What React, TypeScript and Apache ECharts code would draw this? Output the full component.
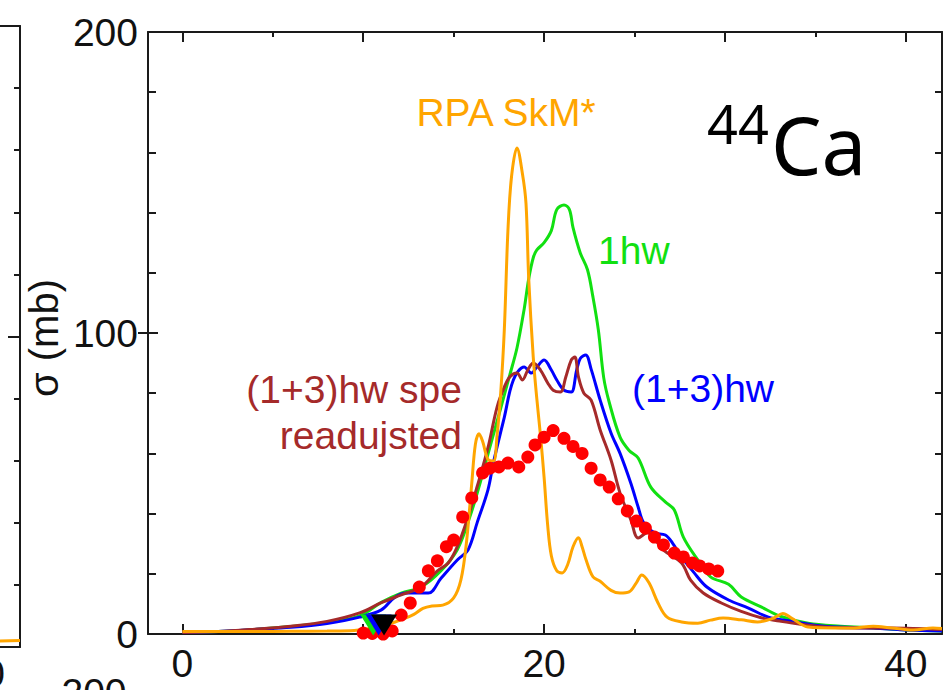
import React, { useEffect, useRef } from "react";
import * as echarts from "echarts";

// ---------- data (MeV, mb) ----------
const rpaSkm: [number, number][] = [
  [0, 0.8], [2, 0.8], [4, 0.8], [6, 0.9], [8, 1.0], [9.5, 1.2], [10.5, 2], [11.5, 3.5], [12.2, 5],
  [12.8, 6.5], [13.3, 8.5], [13.8, 9.3], [14.4, 9.6], [15, 12], [15.4, 18], [15.7, 30], [16.0, 50],
  [16.2, 63], [16.4, 66.5], [16.6, 64], [16.9, 58], [17.2, 57.5], [17.4, 66], [17.6, 80], [17.8, 101],
  [18.0, 134], [18.2, 152], [18.5, 161.5], [18.8, 153], [19.0, 143], [19.15, 118], [19.4, 92],
  [19.6, 78], [19.8, 66], [20.0, 52], [20.2, 36], [20.4, 26], [20.7, 21], [21.0, 20.3], [21.3, 23],
  [21.6, 29], [21.9, 32], [22.1, 29], [22.3, 25], [22.7, 19], [23.1, 17.5], [23.7, 14.5], [24.2, 13.6],
  [24.7, 14], [25.1, 17], [25.4, 19.6], [25.8, 17], [26.3, 10.3], [26.8, 5.6], [27.6, 4], [28.5, 3.6],
  [29.2, 4.6], [29.9, 5.3], [30.9, 4.7], [31.8, 4], [32.7, 5.3], [33.2, 6.8], [33.7, 5.2], [34.6, 2.3],
  [36, 2], [37.1, 2], [38.2, 2.6], [39.2, 2], [40.4, 1.3], [41.5, 2], [42, 1.8],
];

const oneHw: [number, number][] = [
  [0, 0.5], [2, 0.8], [4, 1.5], [6, 2.5], [8, 3.8], [9.8, 6], [11, 10.5], [12.1, 13.6], [13.2, 15.6],
  [14.3, 21], [15.2, 28], [15.9, 39], [16.5, 51], [17, 62], [17.6, 75], [18.1, 86], [18.5, 95],
  [18.9, 108], [19.15, 118], [19.4, 125], [19.6, 127.6], [20.0, 130], [20.4, 134], [20.7, 141],
  [21.1, 142.5], [21.4, 141], [21.6, 135], [22, 126.6], [22.4, 121], [22.7, 112], [23, 101], [23.3, 85],
  [23.6, 77], [24.2, 65.4], [24.7, 61], [25.2, 58.5], [25.9, 48.8], [26.7, 43.9], [27.2, 41.2],
  [27.7, 32.2], [28.5, 24.6], [29.2, 19], [30.2, 16.5], [30.9, 12.3], [32, 9], [33.1, 5.8], [34.6, 3.6],
  [36.4, 2.6], [38.2, 2], [40.1, 1.3], [42, 1],
];

const onePlusThreeHw: [number, number][] = [
  [0, 0.5], [2, 0.8], [4, 1.5], [6, 2.2], [8, 3.5], [9.8, 5.6], [11, 8], [11.7, 12], [12.4, 13.6],
  [13.6, 13.6], [14.3, 18.5], [15.2, 24.6], [15.8, 28], [16.3, 37], [16.9, 48], [17.2, 57], [17.8, 72],
  [18.3, 84.4], [18.9, 88.7], [19.3, 86.7], [19.6, 88.7], [20, 91], [20.4, 87.7], [20.7, 84.4],
  [21.1, 81], [21.5, 80.4], [21.8, 87.7], [22.0, 91.5], [22.3, 92.7], [22.6, 88], [23.1, 77.7],
  [23.7, 66.8], [24.2, 60], [24.8, 50], [25.2, 42.2], [25.5, 37], [26.1, 33.6], [26.7, 32.9],
  [27.1, 30.2], [27.6, 25.6], [28.3, 20.3], [29, 15.6], [30.2, 11.3], [31.3, 8.6], [32.4, 5.6],
  [33.5, 4.4], [35.5, 2.6], [38.2, 2], [40.1, 1.3], [42, 1],
];

const speReadjusted: [number, number][] = [
  [0, 0.5], [2, 0.8], [4, 1.6], [6, 2.6], [8, 4.2], [9.8, 7], [11, 10.4], [12.1, 13], [13.2, 15.6],
  [14.1, 21], [14.7, 23.6], [15.2, 29], [15.8, 39], [16.3, 49], [16.9, 62], [17.4, 75.4], [17.8, 82],
  [18.1, 85.4], [18.5, 86.7], [18.8, 84.4], [19.1, 87.7], [19.4, 90], [19.8, 87.7], [20.2, 83.4],
  [20.5, 81], [20.9, 80.4], [21.2, 85.4], [21.5, 91], [21.7, 92], [21.9, 85.4], [22.2, 80], [22.6, 77.7],
  [23.1, 67.8], [23.7, 57.8], [24.2, 46.8], [24.8, 37.9], [25.2, 31.9], [25.7, 33.6], [26.6, 27.9],
  [27.6, 23.6], [28.1, 17.9], [28.8, 13.6], [29.8, 10.3], [30.9, 7.5], [32, 5.4], [33.1, 4.2],
  [34.5, 3], [35.5, 2.3], [37.3, 2], [39.2, 2], [42, 1.5],
];

const experiment: [number, number][] = [
  [10.0, 0.3], [10.5, 0.2], [11.1, 0], [11.6, 1], [12.1, 6.3], [12.6, 10.3], [13.1, 15.6], [13.6, 21],
  [14.1, 24.3], [14.6, 29], [15.0, 31.2], [15.5, 38.9], [16.0, 45.2], [16.6, 53.5], [17.0, 55.1],
  [17.5, 55.5], [18.0, 56.8], [18.6, 55.5], [19.1, 58.8], [19.5, 62.8], [20.0, 65.4], [20.5, 67.6],
  [21.1, 65], [21.6, 62.3], [22.1, 60], [22.6, 55.1], [23.1, 51.2], [23.6, 48.8], [24.1, 44.9],
  [24.6, 40.9], [25.1, 37.5], [25.6, 35.2], [26.1, 32.2], [26.6, 29.6], [27.2, 26.9], [27.7, 25.6],
  [28.2, 23.6], [28.6, 22.6], [29.1, 21.6], [29.6, 20.9],
];

// threshold markers (green, blue, black)
const thresholdGreen: [number, number][] = [[10.55, 3.0]];
const thresholdBlue: [number, number][] = [[10.85, 3.0]];
const thresholdBlack: [number, number][] = [[11.15, 3.0]];

// neighbouring (cropped) panel on the left
const leftPanelRpa: [number, number][] = [[40, 1.9], [42, 2.1]];

// ticks & labels
const xLabelValues = [0, 20, 40];
const xMajorTicks = [0, 10, 20, 30, 40];
const xMinorTicks = [5, 15, 25, 35];
const yLabelValues = [0, 100, 200];
const yMinorTicks = [20, 40, 60, 80, 120, 140, 160, 180];
const yMajorTicks = [100];

const COLORS = {
  rpa: "#ffa500",
  oneHw: "#11e011",
  onePlusThree: "#0000ff",
  spe: "#a52a2a",
  exp: "#ff0000",
  axis: "#1a1a1a",
};

const FONT = "'Liberation Sans', Arial, sans-serif";

export default function App() {
  const ref = useRef<HTMLDivElement>(null);

  useEffect(() => {
    document.body.style.margin = "0";
    if (!ref.current) return;
    const chart = echarts.init(ref.current, undefined, { renderer: "svg" });

    const line = { show: true, onZero: false, lineStyle: { color: COLORS.axis, width: 2 } };
    const noLine = { show: false, onZero: false };
    const hidden = { show: false };
    const X0 = { min: -1.9, max: 42 };
    const tickStyle = { color: COLORS.axis, width: 2 };

    const lineSeries = (name: string, data: [number, number][], color: string, z: number) => ({
      type: "line",
      name,
      data,
      xAxisIndex: 0,
      yAxisIndex: 0,
      smooth: 0.35,
      showSymbol: false,
      symbol: "none",
      lineStyle: { color, width: 3 },
      z,
    });

    const tri = (data: [number, number][], color: string, z: number) => ({
      type: "scatter",
      data,
      xAxisIndex: 0,
      yAxisIndex: 0,
      symbol: "triangle",
      symbolRotate: 180,
      symbolSize: [26, 21],
      itemStyle: { color, opacity: 1 },
      clip: false,
      z,
    });

    const option: any = {
      animation: false,
      backgroundColor: "#ffffff",
      grid: [
        { left: 148, right: 5, top: 32, bottom: 56 },
        { left: 0, right: 927, top: 26, bottom: 43 },
      ],
      xAxis: [
        {
          type: "value", gridIndex: 0, position: "bottom", ...X0,
          axisLine: line, splitLine: hidden,
          axisTick: { show: true, inside: true, length: 10, customValues: xMajorTicks, lineStyle: tickStyle },
          axisLabel: { customValues: xLabelValues, fontSize: 39, fontFamily: FONT, color: "#111", margin: 10 },
        },
        {
          type: "value", gridIndex: 0, position: "bottom", ...X0,
          axisLine: noLine, splitLine: hidden, axisLabel: hidden,
          axisTick: { show: true, inside: true, length: 5, customValues: xMinorTicks, lineStyle: tickStyle },
        },
        {
          type: "value", gridIndex: 0, position: "top", ...X0,
          axisLine: line, splitLine: hidden, axisLabel: hidden,
          axisTick: { show: true, inside: true, length: 10, customValues: xMajorTicks, lineStyle: tickStyle },
        },
        {
          type: "value", gridIndex: 0, position: "top", ...X0,
          axisLine: noLine, splitLine: hidden, axisLabel: hidden,
          axisTick: { show: true, inside: true, length: 5, customValues: xMinorTicks, lineStyle: tickStyle },
        },
        {
          type: "value", gridIndex: 1, position: "bottom", min: 40, max: 42,
          axisLine: line, splitLine: hidden, axisLabel: hidden, axisTick: hidden,
        },
        {
          type: "value", gridIndex: 1, position: "top", min: 40, max: 42,
          axisLine: line, splitLine: hidden, axisLabel: hidden, axisTick: hidden,
        },
      ],
      yAxis: [
        {
          type: "value", gridIndex: 0, position: "left", min: 0, max: 200,
          axisLine: line, splitLine: hidden,
          axisTick: { show: true, inside: true, length: 8, customValues: yMinorTicks, lineStyle: tickStyle },
          axisLabel: { customValues: yLabelValues, fontSize: 39, fontFamily: FONT, color: "#111", margin: 10 },
        },
        {
          type: "value", gridIndex: 0, position: "left", min: 0, max: 200,
          axisLine: noLine, splitLine: hidden, axisLabel: hidden,
          axisTick: { show: true, inside: false, length: 10, customValues: yMajorTicks, lineStyle: tickStyle },
        },
        {
          type: "value", gridIndex: 0, position: "left", min: 0, max: 200,
          axisLine: noLine, splitLine: hidden, axisLabel: hidden,
          axisTick: { show: true, inside: true, length: 10, customValues: yMajorTicks, lineStyle: tickStyle },
        },
        {
          type: "value", gridIndex: 0, position: "right", min: 0, max: 200,
          axisLine: line, splitLine: hidden, axisLabel: hidden,
          axisTick: { show: true, inside: true, length: 7, customValues: [...yMinorTicks, ...yMajorTicks], lineStyle: tickStyle },
        },
        {
          type: "value", gridIndex: 1, position: "right", min: 0, max: 200,
          axisLine: line, splitLine: hidden, axisLabel: hidden,
          axisTick: { show: true, inside: true, length: 6, customValues: yMinorTicks, lineStyle: tickStyle },
        },
        {
          type: "value", gridIndex: 1, position: "right", min: 0, max: 200,
          axisLine: noLine, splitLine: hidden, axisLabel: hidden,
          axisTick: { show: true, inside: true, length: 12, customValues: yMajorTicks, lineStyle: tickStyle },
        },
      ],
      series: [
        lineSeries("1hw", oneHw, COLORS.oneHw, 2),
        lineSeries("(1+3)hw", onePlusThreeHw, COLORS.onePlusThree, 3),
        lineSeries("(1+3)hw spe readujsted", speReadjusted, COLORS.spe, 4),
        lineSeries("RPA SkM*", rpaSkm, COLORS.rpa, 5),
        {
          type: "scatter",
          name: "exp",
          data: experiment,
          xAxisIndex: 0,
          yAxisIndex: 0,
          symbol: "circle",
          symbolSize: 13,
          itemStyle: { color: COLORS.exp, opacity: 1 },
          clip: false,
          z: 6,
        },
        tri(thresholdGreen, COLORS.oneHw, 7),
        tri(thresholdBlue, COLORS.onePlusThree, 8),
        tri(thresholdBlack, "#000000", 9),
        {
          type: "line",
          data: leftPanelRpa,
          xAxisIndex: 4,
          yAxisIndex: 4,
          showSymbol: false,
          symbol: "none",
          lineStyle: { color: COLORS.rpa, width: 3 },
        },
      ],
      graphic: [
        { type: "text", x: 506, y: 112, style: { text: "RPA SkM*", fill: COLORS.rpa, font: `39px ${FONT}`, textAlign: "center", textVerticalAlign: "middle" } },
        { type: "text", x: 598, y: 250, style: { text: "1hw", fill: COLORS.oneHw, font: `39px ${FONT}`, textAlign: "left", textVerticalAlign: "middle" } },
        { type: "text", x: 632, y: 388, style: { text: "(1+3)hw", fill: COLORS.onePlusThree, font: `39px ${FONT}`, textAlign: "left", textVerticalAlign: "middle" } },
        { type: "text", x: 462, y: 389, style: { text: "(1+3)hw spe", fill: COLORS.spe, font: `39px ${FONT}`, textAlign: "right", textVerticalAlign: "middle" } },
        { type: "text", x: 462, y: 435, style: { text: "readujsted", fill: COLORS.spe, font: `39px ${FONT}`, textAlign: "right", textVerticalAlign: "middle" } },
        { type: "text", x: 707, y: 123, style: { text: "44", fill: "#000", font: `54px 'Noto Sans', sans-serif`, textAlign: "left", textVerticalAlign: "middle" } },
        { type: "text", x: 771, y: 143, style: { text: "Ca", fill: "#000", font: `80px 'Noto Sans', sans-serif`, textAlign: "left", textVerticalAlign: "middle" } },
        { type: "text", x: 44, y: 338, rotation: Math.PI / 2, style: { text: "σ (mb)", fill: "#111", font: `40px ${FONT}`, textAlign: "center", textVerticalAlign: "middle" } },
        { type: "text", x: 5, y: 673, style: { text: "0", fill: "#111", font: `39px ${FONT}`, textAlign: "right", textVerticalAlign: "middle" } },
        { type: "text", x: 94, y: 692, style: { text: "200", fill: "#111", font: `39px ${FONT}`, textAlign: "center", textVerticalAlign: "middle" } },
      ],
    };

    chart.setOption(option);
    return () => chart.dispose();
  }, []);

  return <div ref={ref} style={{ width: 947, height: 690 }} />;
}
